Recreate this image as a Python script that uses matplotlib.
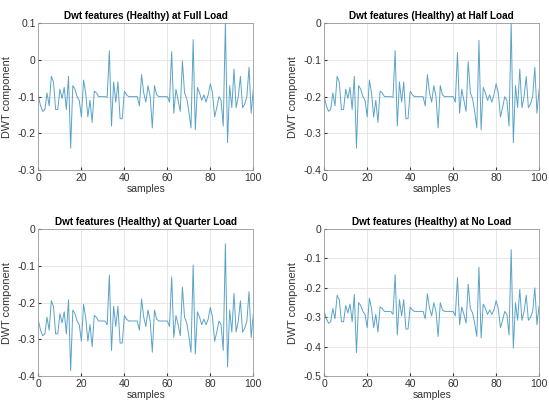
import numpy as np
import matplotlib
matplotlib.use('Agg')
import matplotlib.pyplot as plt

# Sample index (x axis)
samples = list(range(0, 101))

# DWT component values
full_load = [-0.100, -0.125, -0.140, -0.135, -0.090, -0.125, -0.045, -0.060, -0.135, -0.135,
             -0.080, -0.105, -0.075, -0.135, -0.045, -0.240, -0.070, -0.080, -0.100, -0.110,
             -0.155, -0.055, -0.090, -0.155, -0.110, -0.170, -0.085, -0.090, -0.100, -0.100,
             -0.100, -0.100, -0.102, 0.025, -0.180, -0.060, -0.115, -0.060, -0.160, -0.160,
             -0.085, -0.095, -0.100, -0.100, -0.100, -0.100, -0.100, -0.125, -0.040, -0.090,
             -0.115, -0.070, -0.100, -0.185, -0.070, -0.095, -0.100, -0.100, -0.100, -0.100,
             -0.100, -0.115, 0.022, -0.145, -0.080, -0.110, -0.140, -0.003, -0.090, -0.105,
             -0.140, -0.185, 0.055, -0.190, -0.075, -0.090, -0.110, -0.095, -0.115, -0.095,
             -0.065, -0.090, -0.155, -0.130, -0.100, -0.110, -0.180, 0.100, -0.225, -0.070,
             -0.130, -0.025, -0.130, -0.100, -0.045, -0.130, -0.120, -0.100, -0.020, -0.145,
             -0.080]

half_load = [-0.200, -0.225, -0.240, -0.235, -0.190, -0.225, -0.145, -0.160, -0.235, -0.235,
             -0.180, -0.205, -0.175, -0.235, -0.145, -0.340, -0.170, -0.180, -0.200, -0.210,
             -0.255, -0.155, -0.190, -0.255, -0.210, -0.270, -0.185, -0.190, -0.200, -0.200,
             -0.200, -0.200, -0.202, -0.075, -0.280, -0.160, -0.215, -0.160, -0.260, -0.260,
             -0.185, -0.195, -0.200, -0.200, -0.200, -0.200, -0.200, -0.225, -0.140, -0.190,
             -0.215, -0.170, -0.200, -0.285, -0.170, -0.195, -0.200, -0.200, -0.200, -0.200,
             -0.200, -0.215, -0.080, -0.245, -0.180, -0.210, -0.240, -0.105, -0.190, -0.205,
             -0.240, -0.285, -0.047, -0.290, -0.175, -0.190, -0.210, -0.195, -0.215, -0.195,
             -0.165, -0.190, -0.255, -0.230, -0.200, -0.210, -0.280, 0.000, -0.325, -0.170,
             -0.230, -0.125, -0.230, -0.200, -0.145, -0.230, -0.220, -0.200, -0.120, -0.245,
             -0.180]

quarter_load = [-0.250, -0.275, -0.290, -0.285, -0.240, -0.275, -0.195, -0.210, -0.285, -0.285,
                -0.230, -0.255, -0.225, -0.285, -0.192, -0.385, -0.220, -0.230, -0.250, -0.260,
                -0.305, -0.205, -0.240, -0.305, -0.260, -0.320, -0.235, -0.240, -0.250, -0.250,
                -0.250, -0.250, -0.260, -0.125, -0.330, -0.210, -0.265, -0.210, -0.310, -0.310,
                -0.235, -0.245, -0.250, -0.250, -0.250, -0.250, -0.250, -0.275, -0.190, -0.240,
                -0.265, -0.220, -0.250, -0.335, -0.220, -0.245, -0.250, -0.250, -0.250, -0.250,
                -0.250, -0.265, -0.130, -0.295, -0.235, -0.260, -0.290, -0.158, -0.240, -0.255,
                -0.290, -0.335, -0.098, -0.340, -0.225, -0.240, -0.260, -0.245, -0.260, -0.245,
                -0.213, -0.240, -0.305, -0.280, -0.250, -0.260, -0.330, -0.040, -0.375, -0.220,
                -0.280, -0.175, -0.280, -0.250, -0.195, -0.280, -0.270, -0.250, -0.170, -0.295,
                -0.230]

no_load = [-0.280, -0.305, -0.320, -0.315, -0.270, -0.305, -0.225, -0.240, -0.315, -0.315,
           -0.260, -0.285, -0.255, -0.315, -0.222, -0.420, -0.250, -0.260, -0.280, -0.290,
           -0.335, -0.235, -0.270, -0.335, -0.290, -0.350, -0.265, -0.270, -0.280, -0.280,
           -0.280, -0.280, -0.290, -0.155, -0.360, -0.240, -0.295, -0.240, -0.340, -0.340,
           -0.265, -0.275, -0.280, -0.280, -0.280, -0.280, -0.280, -0.305, -0.220, -0.270,
           -0.295, -0.250, -0.280, -0.365, -0.250, -0.275, -0.280, -0.280, -0.280, -0.280,
           -0.280, -0.295, -0.165, -0.325, -0.265, -0.290, -0.320, -0.188, -0.270, -0.285,
           -0.320, -0.365, -0.130, -0.370, -0.255, -0.270, -0.290, -0.275, -0.290, -0.275,
           -0.243, -0.270, -0.335, -0.310, -0.280, -0.290, -0.360, -0.070, -0.405, -0.250,
           -0.310, -0.205, -0.310, -0.280, -0.225, -0.310, -0.300, -0.280, -0.200, -0.325,
           -0.260]

titles = ['Dwt features (Healthy) at Full Load',
          'Dwt features (Healthy) at Half Load',
          'Dwt features (Healthy) at Quarter Load',
          'Dwt features (Healthy) at No Load']

# y ticks and their labels for each panel
yticks = [[-0.3, -0.2, -0.1, 0, 0.1],
          [-0.4, -0.3, -0.2, -0.1, 0],
          [-0.4, -0.3, -0.2, -0.1, 0],
          [-0.5, -0.4, -0.3, -0.2, -0.1, 0]]
ytick_labels = [['-0.3', '-0.2', '-0.1', '0', '0.1'],
                ['-0.4', '-0.3', '-0.2', '-0.1', '0'],
                ['-0.4', '-0.3', '-0.2', '-0.1', '0'],
                ['-0.5', '-0.4', '-0.3', '-0.2', '-0.1', '0']]
xticks = [0, 20, 40, 60, 80, 100]
xtick_labels = ['0', '20', '40', '60', '80', '100']

plt.rcParams['font.family'] = ['Liberation Sans', 'DejaVu Sans']

fig, axes = plt.subplots(2, 2, figsize=(5.49, 4.12), dpi=100)
plt.subplots_adjust(left=0.07, right=0.982, top=0.944, bottom=0.087, wspace=0.33, hspace=0.40)

series = [full_load, half_load, quarter_load, no_load]
for ax, y, title, yt, ytl in zip(axes.flat, series, titles, yticks, ytick_labels):
    ax.plot(samples, y, color='#5aa3c8', linewidth=0.7)
    ax.set_xlim(0, 100)
    ax.set_ylim(yt[0], yt[-1])
    ax.set_xticks(xticks)
    ax.set_xticklabels(xtick_labels)
    ax.set_yticks(yt)
    ax.set_yticklabels(ytl)
    ax.set_title(title, fontsize=7.2, fontweight='bold', pad=3)
    ax.set_xlabel('samples', fontsize=7.5, labelpad=1, color='#333333')
    ax.set_ylabel('DWT component', fontsize=7.8, labelpad=4, color='#333333')
    ax.tick_params(axis='both', direction='in', labelsize=7.5, length=2, colors='#333333', pad=2)
    ax.grid(True, color='#e3e3e3', linewidth=0.6)
    for spine in ax.spines.values():
        spine.set_color('#9a9a9a')
        spine.set_linewidth(0.6)

plt.savefig('out.png', dpi=100)
plt.close()
